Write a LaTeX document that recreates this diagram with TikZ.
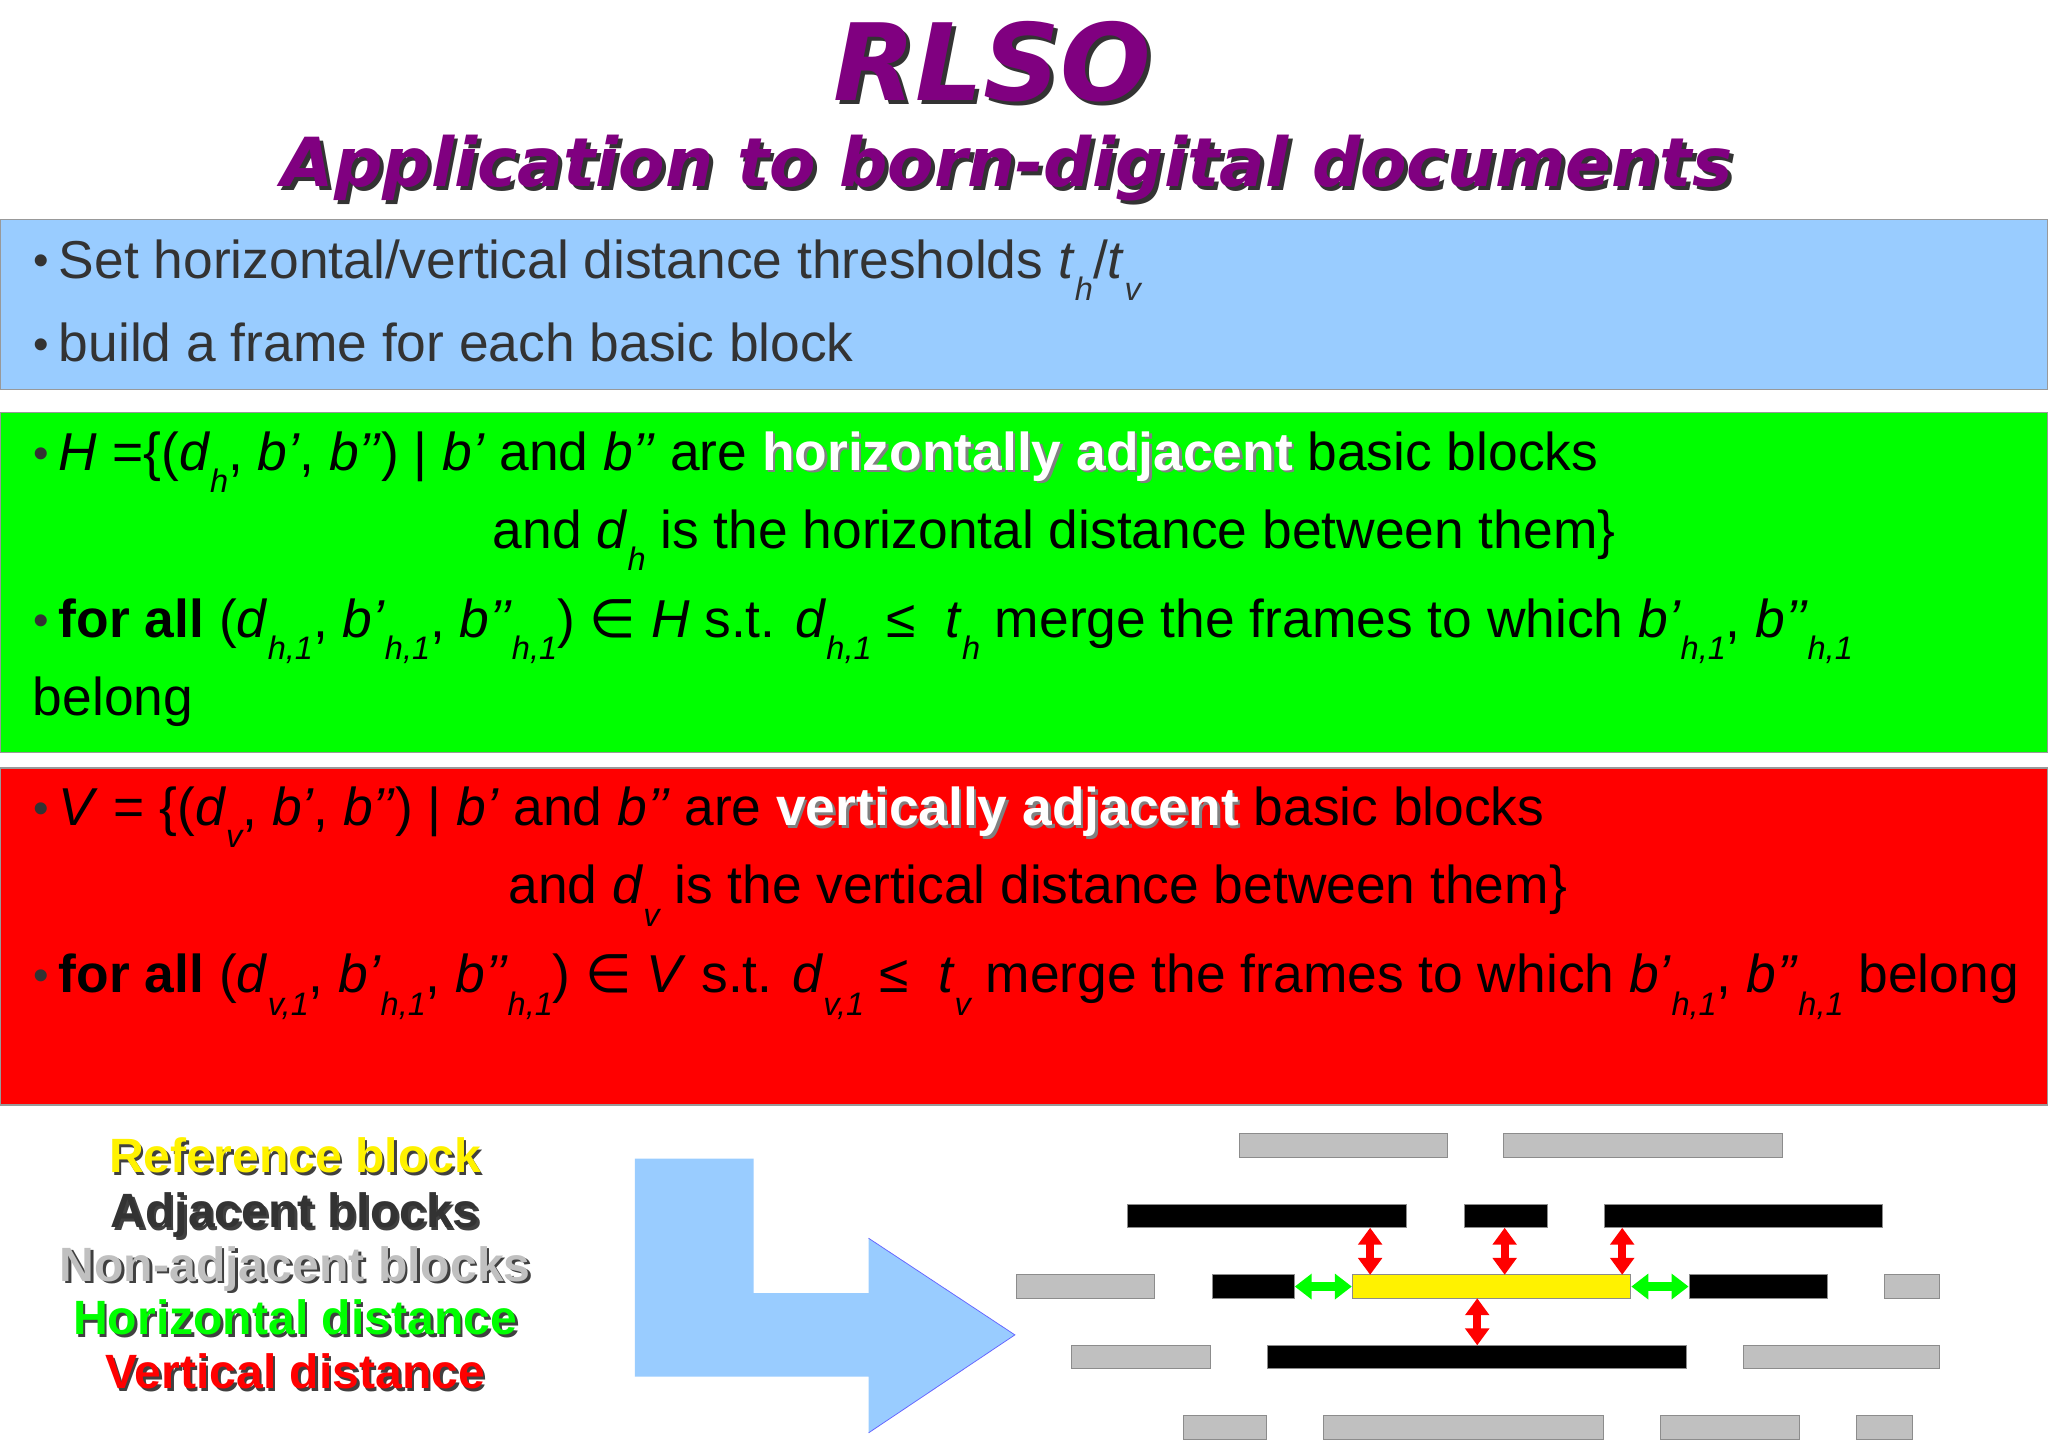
\documentclass[tikz,border=0pt]{standalone}
\usepackage{fontspec}
\setmainfont{Liberation Sans}
\newfontfamily\titlefont{DejaVu Sans}
\newfontfamily\symfont{DejaVu Sans}
\usetikzlibrary{arrows.meta}
\definecolor{ttl}{HTML}{800080}
\definecolor{bluebg}{HTML}{99CCFF}
\definecolor{txtgray}{HTML}{333333}
\definecolor{blkgray}{HTML}{C0C0C0}
\newcommand\lo[1]{\raisebox{-0.42em}{\fontsize{25}{25}\selectfont\itshape #1}}
\newcommand\bul{\hspace{-25pt}{\color{txtgray}\fontsize{34}{34}\selectfont\raisebox{0.05em}{•}}\hspace{8pt}}
\newcommand\elt{{\symfont ∈}}
\newcommand\shw[1]{\mbox{\rlap{\hspace{2pt}\raisebox{-2pt}{\color{gray}#1}}{\color{white}#1}}}
\begin{document}
\begin{tikzpicture}[x=1bp,y=-1bp,
  txt/.style={anchor=base west,inner sep=0pt,font=\fontsize{41}{48}\selectfont},
  band/.style={draw=black!40,line width=1pt},
  blk/.style={draw=black!45,line width=0.8pt},
  gblk/.style={blk,fill=blkgray},
  bblk/.style={blk,fill=black},
  legend/.style={anchor=base,inner sep=0pt,font=\fontsize{37}{37}\selectfont\bfseries},
  varr/.style={draw=red,line width=6pt,{Triangle[length=13pt,width=18pt]}-{Triangle[length=13pt,width=18pt]}},
  harr/.style={draw=green,line width=7pt,{Triangle[length=13pt,width=19pt]}-{Triangle[length=13pt,width=19pt]}}]
\useasboundingbox (0,0) rectangle (1568,1107);
\fill[white] (0,0) rectangle (1568,1107);
% title
\node[anchor=base,inner sep=0pt,font=\titlefont\bfseries\itshape\fontsize{82}{82}\selectfont,text=black!80] at (763,80) {RLSO};
\node[anchor=base,inner sep=0pt,font=\titlefont\bfseries\itshape\fontsize{82}{82}\selectfont,text=ttl] (title) at (760,77) {RLSO};
\node[anchor=base,inner sep=0pt,font=\titlefont\bfseries\itshape\fontsize{52}{52}\selectfont,text=black!80] at (774,146) {Application to born-digital documents};
\node[anchor=base,inner sep=0pt,font=\titlefont\bfseries\itshape\fontsize{52}{52}\selectfont,text=ttl] (sub) at (771,143) {Application to born-digital documents};
% bands
\draw[band,fill=bluebg] (0,168) rectangle (1568,298);
\draw[band,fill=green] (0,316) rectangle (1568,576);
\draw[band,fill=red] (0,588) rectangle (1568,846);
% blue text
\node[txt,text=txtgray] (b1) at (50,213) {\bul Set horizontal/vertical distance thresholds \textit{t}\lo{h}/\textit{t}\lo{v}};
\node[txt,text=txtgray] (b2) at (50,277) {\bul build a frame for each basic block};
% green text
\node[txt] (g1) at (50,360) {\bul\textit{H} =\{(\textit{d}\lo{h}, \textit{b’}, \textit{b’’}) | \textit{b’} and \textit{b’’} are \shw{\bfseries horizontally adjacent} basic blocks};
\node[txt] (g2) at (377,420) {and \textit{d}\lo{h} is the horizontal distance between them\}};
\node[txt] (g3) at (50,488) {\bul\textbf{for all} (\textit{d}\lo{h,1}, \textit{b’}\lo{h,1}, \textit{b’’}\lo{h,1}) \elt\ \textit{H} s.t. \textit{d}\lo{h,1} ≤\ \ \textit{t}\lo{h} merge the frames to which \textit{b’}\lo{h,1}, \textit{b’’}\lo{h,1}};
\node[txt] (g4) at (25,548) {belong};
% red text
\node[txt] (r1) at (50,632) {\bul\textit{V} = \{(\textit{d}\lo{v}, \textit{b’}, \textit{b’’}) | \textit{b’} and \textit{b’’} are \shw{\bfseries vertically adjacent} basic blocks};
\node[txt] (r2) at (389,692) {and \textit{d}\lo{v} is the vertical distance between them\}};
\node[txt] (r3) at (50,760) {\bul\textbf{for all} (\textit{d}\lo{v,1}, \textit{b’}\lo{h,1}, \textit{b’’}\lo{h,1}) \elt\ \textit{V} s.t. \textit{d}\lo{v,1} ≤\ \ \textit{t}\lo{v} merge the frames to which \textit{b’}\lo{h,1}, \textit{b’’}\lo{h,1} belong};
% legend
\foreach \t/\c/\y [count=\i] in {Reference block/yellow/898,Adjacent blocks/black!80/940,Non-adjacent blocks/blkgray/981,Horizontal distance/green/1022,Vertical distance/red/1063}{
  \node[legend,text=black!75] at (228,\y+2) {\t};
  \node[legend,text=\c] (leg\i) at (226,\y) {\t};
}
% big arrow
\fill[bluebg] (486,887) -- (577,887) -- (577,990) -- (665,990) -- (665,948) -- (777,1022) -- (665,1097) -- (665,1054) -- (486,1054) -- cycle;
\draw[blue!60,line width=0.6pt] (665,948) -- (777,1022) -- (665,1097);
% blocks
\draw[gblk] (949,868) rectangle (1108,886);
\draw[gblk] (1151,868) rectangle (1365,886);
\node[bblk,inner sep=0pt,minimum width=214,minimum height=18] (t1) at (970,931) {};
\node[bblk,inner sep=0pt,minimum width=64,minimum height=18] (t2) at (1153,931) {};
\node[bblk,inner sep=0pt,minimum width=214,minimum height=18] (t3) at (1335,931) {};
\draw[gblk] (778,976) rectangle (884,994);
\node[bblk,inner sep=0pt,minimum width=63,minimum height=18] (ml) at (959.5,985) {};
\node[blk,fill=yellow,inner sep=0pt,minimum width=214,minimum height=18] (ref) at (1142,985) {};
\node[bblk,inner sep=0pt,minimum width=106,minimum height=18] (mr) at (1346,985) {};
\draw[gblk] (1443,976) rectangle (1485,994);
\draw[gblk] (820,1030) rectangle (927,1048);
\node[bblk,inner sep=0pt,minimum width=322,minimum height=18] (bot) at (1131,1039) {};
\draw[gblk] (1335,1030) rectangle (1485,1048);
\draw[gblk] (906,1084) rectangle (970,1102);
\draw[gblk] (1013,1084) rectangle (1228,1102);
\draw[gblk] (1271,1084) rectangle (1378,1102);
\draw[gblk] (1421,1084) rectangle (1464,1102);
% distance arrows
\coordinate (a1t) at (1049,940); \coordinate (a1b) at (1049,976);
\coordinate (a2t) at (1152,940); \coordinate (a2b) at (1152,976);
\coordinate (a3t) at (1242,940); \coordinate (a3b) at (1242,976);
\coordinate (a4t) at (1131,994); \coordinate (a4b) at (1131,1030);
\draw[varr] (a1t) -- (a1b);
\draw[varr] (a2t) -- (a2b);
\draw[varr] (a3t) -- (a3b);
\draw[varr] (a4t) -- (a4b);
\draw[harr] (ml.east) -- (ref.west);
\draw[harr] (ref.east) -- (mr.west);
\end{tikzpicture}
\end{document}
